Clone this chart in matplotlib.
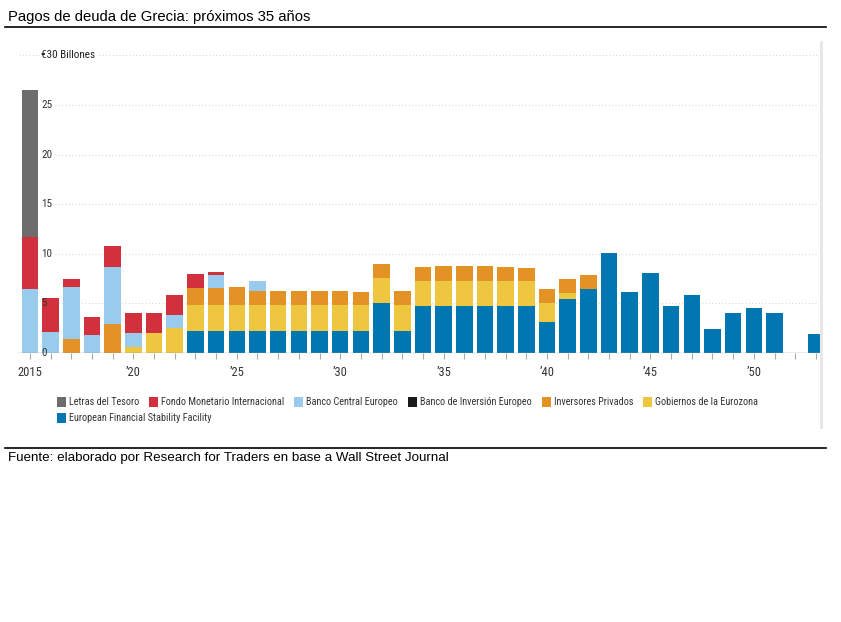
import matplotlib.pyplot as plt
from matplotlib.patches import Rectangle
from matplotlib.lines import Line2D
from matplotlib import font_manager
import numpy as np

# buscar una fuente angosta si hay alguna instalada
names = {f.name for f in font_manager.fontManager.ttflist}
narrow = dict(family='Liberation Sans')
if 'Liberation Sans Narrow' in names:
    narrow = dict(family='Liberation Sans Narrow')
elif 'Roboto Condensed' in names:
    narrow = dict(family='Roboto Condensed')
elif any(f.name == 'DejaVu Sans' and 'condensed' in str(f.stretch) for f in font_manager.fontManager.ttflist):
    narrow = dict(family='DejaVu Sans', stretch='condensed')

years = list(range(2015, 2054))

# billones de euros por acreedor
letras = [14.8] + [0] * 38
fmi = [5.2, 3.4, 0.75, 1.8, 2.1, 2.05, 2.05, 2.0, 1.45, 0.35] + [0] * 29
bce = [6.5, 2.1, 5.3, 1.8, 5.8, 1.4, 0, 1.3, 0, 1.3, 0, 1.0] + [0] * 27
bei = [0] * 39
privados = [0, 0, 1.4, 0, 2.9, 0, 0, 0, 1.75, 1.75, 1.85, 1.45,
            1.5, 1.5, 1.5, 1.5, 1.35, 1.45, 1.5, 1.45, 1.55, 1.55, 1.55, 1.45, 1.35,
            1.4, 1.4, 1.4] + [0] * 11
gobiernos = [0, 0, 0, 0, 0, 0.6, 2.0, 2.5, 2.6, 2.6, 2.6, 2.6,
             2.6, 2.6, 2.6, 2.6, 2.6, 2.55, 2.6, 2.55, 2.55, 2.55, 2.55, 2.55, 2.55,
             1.95, 0.6, 0] + [0] * 11
efsf = [0] * 8 + [2.2, 2.2, 2.2, 2.2, 2.2, 2.2, 2.2, 2.2, 2.2, 5.0, 2.2,
                  4.7, 4.7, 4.7, 4.7, 4.7, 4.7, 3.1, 5.45, 6.45, 10.05, 6.1, 8.05,
                  4.7, 5.8, 2.4, 4.0, 4.5, 4.0, 0, 1.9]

# orden de apilado (de abajo hacia arriba)
stack = [
    ('European Financial Stability Facility', efsf, '#0077b0'),
    ('Gobiernos de la Eurozona', gobiernos, '#eec63f'),
    ('Inversores Privados', privados, '#e39325'),
    ('Banco de Inversión Europeo', bei, '#1a1a1a'),
    ('Banco Central Europeo', bce, '#98cbec'),
    ('Fondo Monetario Internacional', fmi, '#d0313c'),
    ('Letras del Tesoro', letras, '#6d6d6d'),
]
legend_order = [6, 5, 4, 3, 2, 1, 0]

W, H = 841, 622
fig = plt.figure(figsize=(W / 100, H / 100), dpi=100)
ax = fig.add_axes([18 / W, 1 - 353 / H, 802 / W, 311 / H])

bottom = np.zeros(len(years))
for name, vals, col in stack:
    v = np.array(vals, dtype=float)
    ax.bar(years, v, bottom=bottom, width=0.8, color=col, linewidth=0, zorder=3)
    bottom += v

ax.set_xlim(2014.42, 2053.2)
ax.set_ylim(0, 31.35)

# lineas de grilla punteadas
for lv in [5, 10, 15, 20, 25]:
    ax.hlines(lv, 2016.2, 2053.1, colors='#d8d8d8', linestyles=(0, (1, 2)), linewidth=0.8, zorder=1)
ax.hlines(30, 2014.45, 2053.1, colors='#d8d8d8', linestyles=(0, (1, 2)), linewidth=0.8, zorder=1)

for lv in [0, 5, 10, 15, 20, 25]:
    ax.text(2015.55, lv, str(lv), fontsize=8, color='#333333', va='center', ha='left', zorder=4, **narrow)
ax.text(2015.55, 30, '€30 Billones', fontsize=8, color='#222222', va='center', ha='left',
        zorder=4, bbox=dict(facecolor='white', edgecolor='none', pad=1), **narrow)

for s in ax.spines.values():
    s.set_visible(False)
ax.axhline(0, color='#9a9a9a', linewidth=1.0, zorder=4)
ax.set_yticks([])
ax.set_xticks(years)
ax.set_xticklabels(['2015' if y == 2015 else ('\u2019%02d' % (y % 100) if y % 5 == 0 else '') for y in years],
                   fontsize=9, color='#333333', **narrow)
ax.tick_params(axis='x', length=4, width=0.8, color='#aaaaaa', pad=5)

# linea vertical derecha
fig.add_artist(Line2D([820.5 / W, 820.5 / W], [1 - 42 / H, 1 - 427 / H], color='#e6e6e6', linewidth=2))

# leyenda manual: se reparte el ancho entre 57 y 758 px
fig.canvas.draw()
renderer = fig.canvas.get_renderer()
leg_fs = 7.3
texts = []
for i in legend_order:
    name, vals, col = stack[i]
    t = fig.text(0, 0, name, fontsize=leg_fs, color='#333333', va='center', ha='left', **narrow)
    texts.append((t, col))
widths = [t.get_window_extent(renderer).width for t, _ in texts[:6]]
gap = max(6, (758 - 57 - sum(widths) - 6 * 12) / 5)
px = 57
for k, (t, col) in enumerate(texts):
    if k == 6:
        px, py = 57, 418
    else:
        py = 402
    fig.add_artist(Rectangle((px / W, 1 - (py + 5) / H), 9 / W, 10 / H, facecolor=col,
                             edgecolor='none', transform=fig.transFigure))
    t.set_position(((px + 12) / W, 1 - py / H))
    if k < 6:
        px += 12 + widths[k] + gap

# titulo y fuente
fig.text(8 / W, 1 - 17 / H, 'Pagos de deuda de Grecia: próximos 35 años', fontsize=10.7,
         family='Liberation Sans', va='center', ha='left', color='black')
fig.add_artist(Line2D([5 / W, 826 / W], [1 - 27 / H, 1 - 27 / H], color='black', linewidth=1.2))
fig.add_artist(Line2D([5 / W, 826 / W], [1 - 447.5 / H, 1 - 447.5 / H], color='black', linewidth=1.2))
fig.text(8 / W, 1 - 458 / H, 'Fuente: elaborado por Research for Traders en base a Wall Street Journal',
         fontsize=9.6, family='Liberation Sans', va='center', ha='left', color='black')

fig.savefig('out.png', dpi=100)
